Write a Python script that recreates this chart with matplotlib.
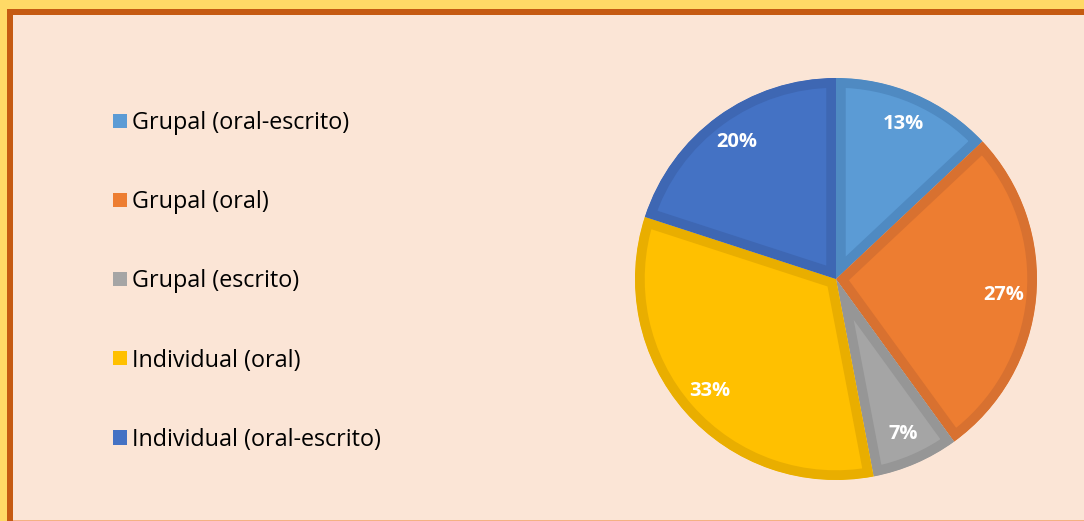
# Distribución de tipos de evaluación - gráfico circular

import matplotlib.pyplot as plt
from matplotlib.patches import Rectangle

plt.rcParams['font.family'] = ['Open Sans', 'DejaVu Sans']

# datos
categorias = ['Grupal (oral-escrito)', 'Grupal (oral)', 'Grupal (escrito)',
              'Individual (oral)', 'Individual (oral-escrito)']
porcentajes = [13, 27, 7, 33, 20]

colores = ['#5B9BD5', '#ED7D31', '#A5A5A5', '#FFC000', '#4472C4']
bordes = ['#4F8AC2', '#D87130', '#969696', '#E9AE00', '#3E67B3']

W, H = 1084, 521
fig = plt.figure(figsize=(W / 100, H / 100), dpi=100)
fig.patch.set_facecolor('#FFD966')

# marco del gráfico (detrás de los ejes)
fig.add_artist(Rectangle((7 / W, 0), 1, 1 - 8.5 / H, transform=fig.transFigure,
                         facecolor='#C55A11', edgecolor='none', zorder=-3))
fig.add_artist(Rectangle((13 / W, 1.5 / H), 1, 1 - 16 / H, transform=fig.transFigure,
                         facecolor='#FBE5D6', edgecolor='none', zorder=-2))
fig.add_artist(Rectangle((13 / W, 0), 1, 1.5 / H, transform=fig.transFigure,
                         facecolor='#F4B183', edgecolor='none', zorder=-2))

# ejes del pastel (centro ~ (836, 278) px, radio ~201 px)
cx, cy, r = 836, 279, 201
ax = fig.add_axes([(cx - r) / W, (H - cy - r) / H, 2 * r / W, 2 * r / H])

wedges, texts, autotexts = ax.pie(
    porcentajes, colors=colores, startangle=90, counterclock=False,
    radius=1, autopct='%1.0f%%', pctdistance=0.84,
    textprops=dict(color='white', fontsize=14.5, fontweight='bold'))
ax.set_xlim(-1, 1)
ax.set_ylim(-1, 1)
ax.axis('off')

# borde interior más oscuro en cada sector
for w, b in zip(wedges, bordes):
    w.set_edgecolor(b)
    w.set_linewidth(14)
    w.set_clip_on(True)
    w.set_clip_path(w)

# leyenda
handles = [Rectangle((0, 0), 1, 1, facecolor=c, edgecolor='none') for c in colores]
fig.legend(handles, categorias, loc='upper left', bbox_to_anchor=(104 / W, 1 - 102 / H),
           frameon=False, fontsize=16.8, handlelength=0.57, handleheight=0.57,
           handletextpad=0.22, labelspacing=2.36, borderaxespad=0)

fig.savefig('out.png', dpi=100, facecolor=fig.get_facecolor())
